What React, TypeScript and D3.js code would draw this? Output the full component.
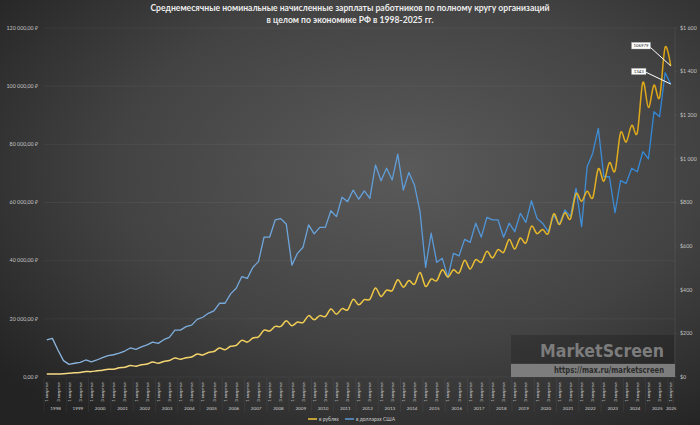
import React from 'react';
import * as d3 from 'd3';

// year groups on the category axis (last group repeats 2025 like the source)
const yearLabels = ['1998', '1999', '2000', '2001', '2002', '2003', '2004', '2005', '2006', '2007',
  '2008', '2009', '2010', '2011', '2012', '2013', '2014', '2015', '2016', '2017', '2018', '2019',
  '2020', '2021', '2022', '2023', '2024', '2025', '2025'];
const yearSizes = [4, 4, 4, 4, 4, 4, 4, 4, 4, 4, 4, 4, 4, 4, 4, 4, 4, 4, 4, 4, 4, 4, 4, 4, 4, 4, 4, 4, 1];
const quarterNames = ['1 квартал', '2 квартал', '3 квартал', '4 квартал'];

// average monthly wage, rubles
const wageRub = [
  1000, 1050, 1040, 1120,
  1250, 1440, 1560, 1850,
  1850, 2150, 2350, 2700,
  2650, 3150, 3350, 3950,
  3700, 4250, 4450, 5150,
  4750, 5350, 5650, 6500,
  6100, 6650, 6900, 7900,
  7600, 8450, 8750, 10000,
  9400, 10550, 10900, 12600,
  12000, 13400, 13800, 16100,
  15800, 17400, 17400, 19300,
  17600, 18900, 18700, 21100,
  19700, 21100, 20800, 23400,
  21600, 23500, 23100, 26700,
  24800, 26600, 26700, 30600,
  27700, 29900, 29700, 33450,
  30900, 33200, 31900, 35950,
  31150, 33700, 33100, 36900,
  34400, 36900, 35750, 40100,
  37150, 40350, 39400, 43200,
  40900, 43800, 42850, 47250,
  44000, 47800, 46100, 51850,
  49300, 50700, 49300, 56100,
  52400, 56450, 54400, 63000,
  60450, 63900, 61600, 71600,
  67350, 73700, 70800, 84000,
  80800, 86550, 84000, 101300,
  92650, 100350, 96100, 113350,
  106979,
];

// same wage, US dollars
const wageUsd = [
  170, 177, 124, 75,
  58, 63, 67, 78,
  69, 78, 89, 98,
  102, 109, 119, 133,
  127, 138, 147, 160,
  154, 171, 182, 215,
  215, 231, 238, 264,
  274, 292, 303, 338,
  338, 381, 407, 460,
  452, 503, 529, 641,
  641, 720, 726, 700,
  513, 567, 595, 697,
  656, 686, 686, 762,
  735, 824, 804, 857,
  815, 853, 819, 972,
  900, 957, 903, 1022,
  857, 938, 880, 758,
  503, 659, 526, 544,
  457, 567, 555, 631,
  617, 705, 641, 732,
  720, 720, 641, 705,
  666, 750, 709, 808,
  727, 705, 666, 743,
  700, 766, 735, 865,
  689, 964, 1026, 1140,
  918, 918, 753, 900,
  888, 957, 941, 1033,
  1000, 1216, 1193, 1395,
  1343,
];

const rubTicks = [0, 20000, 40000, 60000, 80000, 100000, 120000];
const usdTicks = [0, 200, 400, 600, 800, 1000, 1200, 1400, 1600];
const seriesNames = ['в рублях', 'в долларах США'];

const W = 700;
const H = 425;
const FONT = 'Lato, "Open Sans", sans-serif';

const fmtRub = (v: number) => d3.format(',.2f')(v).replace(/,/g, ' ').replace('.', ',') + ' ₽';
const fmtUsd = (v: number) => '$' + d3.format(',')(v).replace(/,/g, ' ');

export default function App() {
  // build categories from year groups
  const cats: { id: number; year: string; q: number }[] = [];
  yearLabels.forEach((y, gi) => {
    for (let q = 0; q < yearSizes[gi]; q++) cats.push({ id: cats.length, year: y, q });
  });

  const x = d3.scaleBand<number>().domain(cats.map(c => c.id)).range([44, 673.5]);
  const bw = x.bandwidth();
  const cx = (i: number) => (x(i) as number) + bw / 2;
  const yRub = d3.scaleLinear().domain([0, 120000]).range([377, 28]);
  const yUsd = d3.scaleLinear().domain([0, 1600]).range([377, 28]);

  const rubLine = d3.line<number>().x((_, i) => cx(i)).y(d => yRub(d)).curve(d3.curveCardinal);
  const usdLine = d3.line<number>().x((_, i) => cx(i)).y(d => yUsd(d));

  // year group bounds
  let start = 0;
  const groups = yearLabels.map((y, gi) => {
    const g = { year: y, from: start, to: start + yearSizes[gi] - 1 };
    start += yearSizes[gi];
    return g;
  });

  const last = cats.length - 1;
  const lastRub = wageRub[last];
  const lastUsd = wageUsd[last];

  return (
    <svg width={W} height={H} style={{ position: 'absolute', left: 0, top: 0 }} fontFamily={FONT}>
      <defs>
        <radialGradient id="bg" cx="58%" cy="40%" r="75%">
          <stop offset="0%" stopColor="#5a5a5a" />
          <stop offset="55%" stopColor="#434343" />
          <stop offset="100%" stopColor="#232323" />
        </radialGradient>
        <linearGradient id="gRub" gradientUnits="userSpaceOnUse" x1={44} x2={674} y1={0} y2={0}>
          <stop offset="0%" stopColor="#f6dc8a" />
          <stop offset="60%" stopColor="#efc53a" />
          <stop offset="100%" stopColor="#dca514" />
        </linearGradient>
        <linearGradient id="gUsd" gradientUnits="userSpaceOnUse" x1={44} x2={674} y1={0} y2={0}>
          <stop offset="0%" stopColor="#8fb6de" />
          <stop offset="60%" stopColor="#5b9bd8" />
          <stop offset="100%" stopColor="#2f86d6" />
        </linearGradient>
      </defs>
      <rect width={W} height={H} fill="url(#bg)" />

      {/* title */}
      <text x={350} y={11} textAnchor="middle" fill="#ececec" fontSize={8.6} fontWeight="bold">
        Среднемесячные номинальные начисленные зарплаты работников по полному кругу организаций
      </text>
      <text x={350} y={22.5} textAnchor="middle" fill="#ececec" fontSize={8.6} fontWeight="bold">
        в целом по экономике РФ в 1998-2025 гг.
      </text>

      {/* grid + left axis */}
      {rubTicks.map(t => (
        <g key={'r' + t}>
          <line x1={44} x2={675} y1={yRub(t)} y2={yRub(t)} stroke="#ffffff" strokeOpacity={0.09} strokeWidth={0.6} />
          <text x={38} y={yRub(t) + 1.8} textAnchor="end" fill="#c4c4c4" fontSize={5.3}>{fmtRub(t)}</text>
        </g>
      ))}
      {/* right axis */}
      <line x1={675} x2={675} y1={28} y2={377} stroke="#ffffff" strokeOpacity={0.12} strokeWidth={0.6} />
      {usdTicks.map(t => (
        <g key={'u' + t}>
          <line x1={675} x2={677} y1={yUsd(t)} y2={yUsd(t)} stroke="#ffffff" strokeOpacity={0.12} strokeWidth={0.6} />
          <text x={680} y={yUsd(t) + 1.8} fill="#c4c4c4" fontSize={5.3}>{fmtUsd(t)}</text>
        </g>
      ))}

      {/* category axis */}
      {cats.filter(c => c.id % 2 === 0).map(c => (
        <text key={'q' + c.id} transform={`translate(${cx(c.id) + 1.6},382.5) rotate(-90)`} textAnchor="end"
          fill="#d0d0d0" fontSize={4.3}>{quarterNames[c.q]}</text>
      ))}
      {groups.map((g, gi) => {
        const left = (x(g.from) as number);
        const right = (x(g.to) as number) + bw;
        return (
          <g key={'y' + gi}>
            <line x1={left} x2={left} y1={378} y2={412} stroke="#ffffff" strokeOpacity={0.1} strokeWidth={0.5} />
            {gi === groups.length - 1 && (
              <line x1={right} x2={right} y1={378} y2={412} stroke="#ffffff" strokeOpacity={0.1} strokeWidth={0.5} />
            )}
            <text x={(left + right) / 2 + 0.5} y={409.5} textAnchor="middle" fill="#d0d0d0" fontSize={4.6}>{g.year}</text>
          </g>
        );
      })}

      {/* watermark */}
      <rect x={511} y={335} width={163} height={28} fill="#000" fillOpacity={0.18} />
      <text x={540} y={357} fill="#7c7c7c" fontSize={17.5} fontWeight="bold"
        fontFamily="'DejaVu Sans', sans-serif" textLength={124} lengthAdjust="spacingAndGlyphs">MarketScreen</text>
      <rect x={511} y={364} width={164} height={13} fill="#7d7d7d" />
      <text x={554} y={373.3} fill="#2c2c2c" fontSize={8.3} fontWeight="bold"
        fontFamily="'DejaVu Sans', sans-serif" textLength={110} lengthAdjust="spacingAndGlyphs">https://max.ru/marketscreen</text>

      {/* series */}
      <path d={usdLine(wageUsd) || ''} fill="none" stroke="url(#gUsd)" strokeWidth={1.3} strokeLinejoin="round" />
      <path d={rubLine(wageRub) || ''} fill="none" stroke="url(#gRub)" strokeWidth={1.5} strokeLinejoin="round" />

      {/* last value callouts */}
      <line x1={650} y1={47} x2={cx(last)} y2={yRub(lastRub)} stroke="#fff" strokeWidth={1} />
      <rect x={631.5} y={42.3} width={19} height={6.7} fill="#fff" stroke="#999" strokeWidth={0.4} />
      <text x={641} y={47.3} textAnchor="middle" fill="#222" fontSize={4.3}>{lastRub}</text>
      <line x1={645.5} y1={72} x2={cx(last)} y2={yUsd(lastUsd)} stroke="#fff" strokeWidth={1} />
      <rect x={631.5} y={68.3} width={14.5} height={6.3} fill="#fff" stroke="#999" strokeWidth={0.4} />
      <text x={638.7} y={73.1} textAnchor="middle" fill="#222" fontSize={4.3}>{lastUsd}</text>

      {/* legend */}
      <line x1={308} x2={317} y1={419} y2={419} stroke="#efc53a" strokeWidth={1.5} />
      <text x={319} y={420.8} fill="#d0d0d0" fontSize={5}>{seriesNames[0]}</text>
      <line x1={345} x2={354} y1={419} y2={419} stroke="#5b9bd8" strokeWidth={1.5} />
      <text x={356} y={420.8} fill="#d0d0d0" fontSize={5}>{seriesNames[1]}</text>
    </svg>
  );
}
